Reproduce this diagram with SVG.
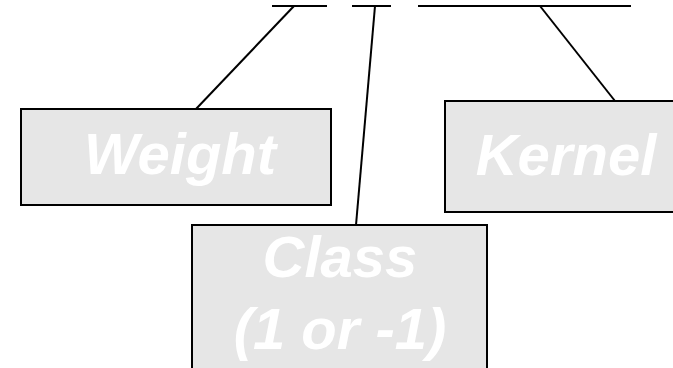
<svg xmlns="http://www.w3.org/2000/svg" width="673" height="368" viewBox="0 0 673 368">
  <style>
    .box { fill: #e6e6e6; stroke: #000; stroke-width: 2; }
    .lbl { fill: #ffffff; font-family: "Liberation Sans", Arial, sans-serif; font-weight: bold; font-style: italic; font-size: 58px; text-anchor: middle; }
    .ln { stroke: #000; stroke-width: 2; fill: none; }
  </style>
  <rect width="673" height="368" fill="#ffffff"/>
  <g id="connectors">
    <line class="ln" x1="272" y1="6" x2="327" y2="6"/>
    <line class="ln" x1="352" y1="6" x2="391" y2="6"/>
    <line class="ln" x1="418" y1="6" x2="631" y2="6"/>
    <line class="ln" x1="294" y1="6" x2="196" y2="109"/>
    <line class="ln" x1="375" y1="6" x2="356" y2="225"/>
    <line class="ln" x1="540" y1="6" x2="615" y2="101"/>
  </g>
  <g id="weight">
    <rect class="box" x="21" y="109" width="310" height="96"/>
    <text class="lbl" x="180" y="174">Weight</text>
  </g>
  <g id="kernel">
    <rect class="box" x="445" y="101" width="240" height="111"/>
    <text class="lbl" x="566" y="175">Kernel</text>
  </g>
  <g id="class">
    <rect class="box" x="192" y="225" width="295" height="150"/>
    <text class="lbl" x="340" y="277">Class</text>
    <text class="lbl" x="340" y="349">(1 or -1)</text>
  </g>
</svg>
